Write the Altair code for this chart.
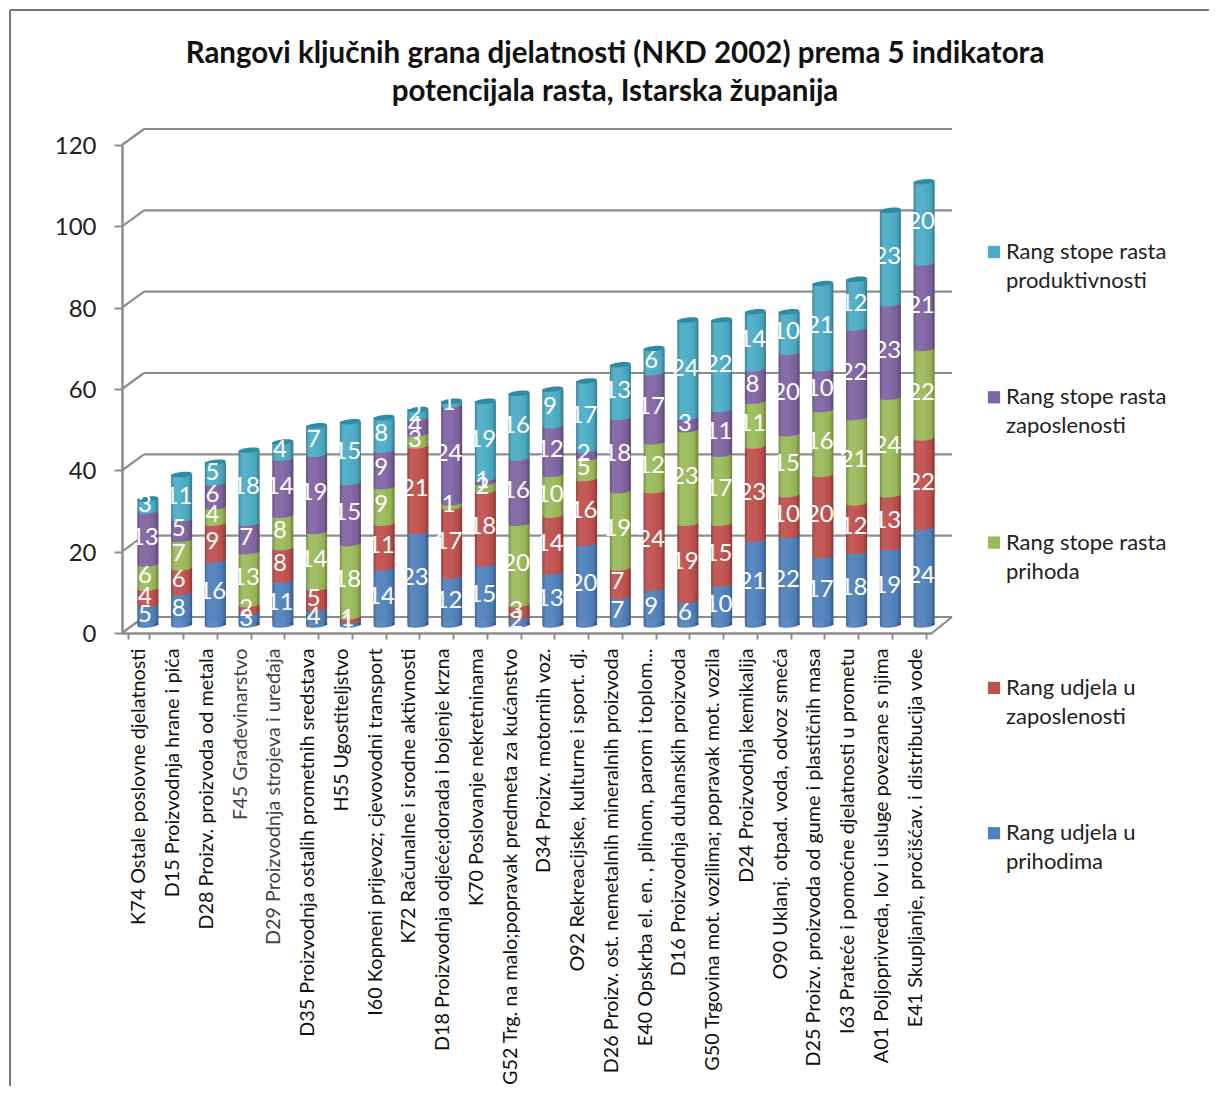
import altair as alt
import pandas as pd

categories = [
    "K74 Ostale poslovne djelatnosti", "D15 Proizvodnja hrane i pića", "D28 Proizv. proizvoda od metala",
    "F45 Građevinarstvo", "D29 Proizvodnja strojeva i uređaja", "D35 Proizvodnja ostalih prometnih sredstava",
    "H55 Ugostiteljstvo", "I60 Kopneni prijevoz; cjevovodni transport", "K72 Računalne i srodne aktivnosti",
    "D18 Proizvodnja odjeće;dorada i bojenje krzna", "K70 Poslovanje nekretninama",
    "G52 Trg. na malo;popravak predmeta za kućanstvo", "D34 Proizv. motornih voz.",
    "O92 Rekreacijske, kulturne i sport. dj.", "D26 Proizv. ost. nemetalnih mineralnih proizvoda",
    "E40 Opskrba el. en. , plinom, parom i toplom...", "D16 Proizvodnja duhanskih proizvoda",
    "G50 Trgovina mot. vozilima; popravak mot. vozila", "D24 Proizvodnja kemikalija",
    "O90 Uklanj. otpad. voda, odvoz smeća", "D25 Proizv. proizvoda od gume i plastičnih masa",
    "I63 Prateće i pomoćne djelatnosti u prometu", "A01 Poljoprivreda, lov i usluge povezane s njima",
    "E41 Skupljanje, pročišćav. i distribucija vode",
]
rang_prihodi = [5, 8, 16, 3, 11, 4, 1, 14, 23, 12, 15, 2, 13, 20, 7, 9, 6, 10, 21, 22, 17, 18, 19, 24]
rang_zaposl = [4, 6, 9, 2, 8, 5, 1, 11, 21, 17, 18, 3, 14, 16, 7, 24, 19, 15, 23, 10, 20, 12, 13, 22]
rast_prihoda = [6, 7, 4, 13, 8, 14, 18, 9, 3, 1, 2, 20, 10, 5, 19, 12, 23, 17, 11, 15, 16, 21, 24, 22]
rast_zaposl = [13, 5, 6, 7, 14, 19, 15, 9, 4, 24, 1, 16, 12, 2, 18, 17, 3, 11, 8, 20, 10, 22, 23, 21]
rast_produkt = [3, 11, 5, 18, 4, 7, 15, 8, 2, 1, 19, 16, 9, 17, 13, 6, 24, 22, 14, 10, 21, 12, 23, 20]

series_names = ["Rang udjela u prihodima", "Rang udjela u zaposlenosti", "Rang stope rasta prihoda",
                "Rang stope rasta zaposlenosti", "Rang stope rasta produktivnosti"]
series_values = [rang_prihodi, rang_zaposl, rast_prihoda, rast_zaposl, rast_produkt]
series_colors = ["#4f81bd", "#c0504d", "#9bbb59", "#8064a2", "#4bacc6"]
y_ticks = [0, 20, 40, 60, 80, 100, 120]
title_lines = ["Rangovi ključnih grana djelatnosti (NKD 2002) prema 5 indikatora",
               "potencijala rasta, Istarska županija"]

rows = []
for ci, cat in enumerate(categories):
    base = 0
    for name, vals in zip(series_names, series_values):
        rows.append({"cat": cat, "series": name, "y0": base, "y1": base + vals[ci],
                     "mid": base + vals[ci] / 2, "value": vals[ci]})
        base += vals[ci]
df = pd.DataFrame(rows)
totals = pd.DataFrame({"cat": categories, "total": [sum(v) for v in zip(*series_values)]})
ticks = pd.DataFrame({"v": y_ticks})

FONT = "Lato"
W, H = 810, 488
GRAY = "#8c8c8c"
BAR_W = 21
BX, BY = 9, -8
ELLIPSE = "M-1,0.1 C-1,0.42 1,0.22 1,-0.1 C1,-0.42 -1,-0.22 -1,0.1 Z"
ESIZE = BAR_W * BAR_W

x_scale = alt.Scale(domain=categories, paddingInner=0.38, paddingOuter=0.19)
y_scale = alt.Scale(domain=[0, 120], nice=False)
x_axis = alt.Axis(labelAngle=270, labelAlign="right", labelBaseline="middle", labelFont=FONT,
                  labelFontSize=19.8, labelPadding=9, labelLimit=0,
                  labelColor=alt.ExprRef("datum.index == 3/23 || datum.index == 4/23 ? '#444' : '#111'"),
                  labelOverlap=False, tickBand="extent", tickColor=GRAY, tickSize=6, tickWidth=2,
                  domainColor=GRAY, domainWidth=2.5, grid=False)
y_axis = alt.Axis(values=y_ticks, labelFont=FONT, labelFontSize=24, labelColor="#222", labelPadding=18,
                  labelOffset=1.5, tickColor=GRAY, tickSize=8, tickWidth=2, domainColor=GRAY, domainWidth=2.5,
                  grid=False)


def X():
    return alt.X("cat:N", scale=x_scale, sort=categories, title=None, axis=x_axis)


def Y(field):
    return alt.Y(field, scale=y_scale, title=None, axis=y_axis)


color_enc = alt.Color("series:N", scale=alt.Scale(domain=series_names[::-1], range=series_colors[::-1]),
                      legend=alt.Legend(orient="none", legendX=861, legendY=96, title=None, symbolType="square",
                                        symbolSize=150, symbolStrokeWidth=0, labelFont=FONT, labelFontSize=22,
                                        labelColor="#222", labelOffset=1, rowPadding=94.3, labelLimit=0,
                                        labelExpr="[slice(datum.label,0,lastindexof(datum.label,' ')),"
                                                  "slice(datum.label,lastindexof(datum.label,' ')+1)]"))
shade = alt.Gradient(gradient="linear", x1=0, x2=1, y1=0, y2=0, stops=[
    alt.GradientStop(offset=0, color="rgba(0,0,0,0.28)"),
    alt.GradientStop(offset=0.22, color="rgba(255,255,255,0.06)"),
    alt.GradientStop(offset=0.5, color="rgba(255,255,255,0.05)"),
    alt.GradientStop(offset=0.82, color="rgba(0,0,0,0.04)"),
    alt.GradientStop(offset=1, color="rgba(0,0,0,0.3)"),
])

grid = alt.Chart(ticks).mark_rule(color=GRAY, strokeWidth=2.2, yOffset=-16).encode(
    y=Y("v:Q"), x=alt.value(22), x2=alt.value(830))
diag = alt.Chart(ticks).mark_rule(color=GRAY, strokeWidth=2.2, yOffset=0, y2Offset=-16).encode(
    y=Y("v:Q"), y2="v:Q", x=alt.value(0), x2=alt.value(22))
floor = alt.Chart(pd.DataFrame({"a": [0]})).mark_rule(color=GRAY, strokeWidth=2.2, yOffset=0, y2Offset=-16).encode(
    y=Y("a:Q"), y2="a:Q", x=alt.value(810), x2=alt.value(830))
frame_v = alt.Chart(pd.DataFrame({"a": [0]})).mark_rule(color="#777", strokeWidth=2).encode(
    x=alt.value(-112), y=alt.value(-135), y2=alt.value(962))
frame_h = alt.Chart(pd.DataFrame({"a": [0]})).mark_rule(color="#777", strokeWidth=2).encode(
    x=alt.value(-112), x2=alt.value(1090), y=alt.value(-135))

bars = alt.Chart(df).mark_bar(size=BAR_W, xOffset=BX, yOffset=BY, y2Offset=BY, opacity=1).encode(
    x=X(), y=Y("y0:Q"), y2="y1:Q", color=color_enc)
rims = alt.Chart(df).mark_point(shape=ELLIPSE, size=ESIZE, filled=True, opacity=1, strokeWidth=0, xOffset=BX, yOffset=BY).encode(
    x=X(), y=Y("y0:Q"),
    color=alt.Color("series:N", scale=alt.Scale(domain=series_names[::-1], range=series_colors[::-1]), legend=None))
overlay = alt.Chart(totals).mark_bar(size=BAR_W, xOffset=BX, yOffset=BY, y2Offset=BY, fill=shade).encode(
    x=X(), y=Y("zero:Q"), y2="total:Q"
).transform_calculate(zero="0")
base_shade = alt.Chart(totals).transform_calculate(zero="0").mark_point(
    shape=ELLIPSE, size=ESIZE, filled=True, opacity=1, strokeWidth=0, fill=shade, xOffset=BX, yOffset=BY).encode(
    x=X(), y=Y("zero:Q"))
caps = alt.Chart(totals).mark_point(shape=ELLIPSE, size=ESIZE, filled=True, opacity=1, strokeWidth=0,
                                    color="#2f8ba3", xOffset=BX, yOffset=BY).encode(
    x=X(), y=Y("total:Q"))
labels = alt.Chart(df).mark_text(font=FONT, fontSize=24, color="white", xOffset=6, yOffset=BY).encode(
    x=X(), y=Y("mid:Q"), text="value:Q")

chart = alt.layer(frame_v, frame_h, grid, diag, floor, bars, rims, overlay, base_shade, caps, labels).properties(
    width=W, height=H,
    autosize=alt.AutoSizeParams(type="none"),
    padding={"left": 114, "top": 137, "right": 277, "bottom": 453},
    title=alt.TitleParams(text=title_lines, font=FONT, fontSize=29.5, fontWeight="bold", color="#111",
                          anchor="middle", dx=88, offset=-127, lineHeight=38, baseline="bottom"),
).configure_view(stroke=None)
chart.config.style = {"guide-label": {"lineHeight": 29}}

chart.save("out.html", embed_options={"renderer": "svg", "actions": False})
